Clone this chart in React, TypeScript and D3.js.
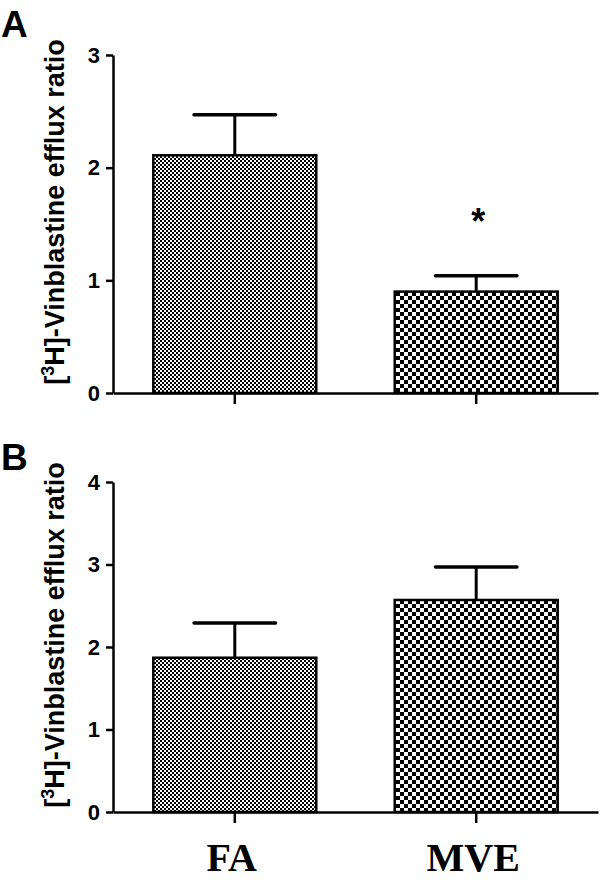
import React, { useEffect, useRef } from "react";
import * as d3 from "d3";

const groups = ["FA", "MVE"];
const panelAMeans = [2.11, 0.9];
const panelAErrors = [0.36, 0.14];
const panelATicks = [0, 1, 2, 3];
const panelBMeans = [1.87, 2.57];
const panelBErrors = [0.42, 0.4];
const panelBTicks = [0, 1, 2, 3, 4];
const panelASignificance = ["", "*"];

const W = 600;
const H = 882;

const App: React.FC = () => {
  const svgRef = useRef<SVGSVGElement>(null);

  useEffect(() => {
    if (!svgRef.current) return;
    const svg = d3.select(svgRef.current);
    svg.selectAll("*").remove();

    const defs = svg.append("defs");
    // fine checker for FA, coarse checker for MVE
    const addChecker = (id: string, cell: number) => {
      const p = defs
        .append("pattern")
        .attr("id", id)
        .attr("patternUnits", "userSpaceOnUse")
        .attr("width", cell * 2)
        .attr("height", cell * 2);
      p.append("rect").attr("width", cell * 2).attr("height", cell * 2).attr("fill", "#fff");
      p.append("rect").attr("width", cell).attr("height", cell).attr("fill", "#000");
      p.append("rect").attr("x", cell).attr("y", cell).attr("width", cell).attr("height", cell).attr("fill", "#000");
    };
    addChecker("chkFine", 2);
    addChecker("chkCoarse", 4);
    const fills = ["url(#chkFine)", "url(#chkCoarse)"];

    const x = d3
      .scaleBand<string>()
      .domain(groups)
      .range([113, 598])
      .paddingInner(0.325)
      .paddingOuter(0.167);

    const drawPanel = (
      letter: string,
      means: number[],
      errors: number[],
      ticks: number[],
      top: number,
      bottom: number,
      letterY: number,
      marks: string[] | null,
      showLabels: boolean
    ) => {
      const g = svg.append("g");
      const y = d3
        .scaleLinear()
        .domain([0, ticks[ticks.length - 1]])
        .range([bottom, top]);

      // bars
      g.selectAll("rect.bar")
        .data(groups)
        .join("rect")
        .attr("class", "bar")
        .attr("x", (d) => x(d)!)
        .attr("y", (_, i) => y(means[i]))
        .attr("width", x.bandwidth())
        .attr("height", (_, i) => y(0) - y(means[i]))
        .attr("fill", (_, i) => fills[i])
        .attr("stroke", "#000")
        .attr("stroke-width", 2.5);

      // upper error bars
      const capHalf = x.bandwidth() / 4;
      groups.forEach((d, i) => {
        const cx = x(d)! + x.bandwidth() / 2;
        g.append("line")
          .attr("x1", cx)
          .attr("x2", cx)
          .attr("y1", y(means[i]))
          .attr("y2", y(means[i] + errors[i]))
          .attr("stroke", "#000")
          .attr("stroke-width", 3);
        g.append("line")
          .attr("x1", cx - capHalf)
          .attr("x2", cx + capHalf)
          .attr("y1", y(means[i] + errors[i]))
          .attr("y2", y(means[i] + errors[i]))
          .attr("stroke", "#000")
          .attr("stroke-width", 3.5)
          .attr("stroke-linecap", "round");
        if (marks && marks[i]) {
          g.append("text")
            .attr("x", cx + 2)
            .attr("y", y(means[i] + errors[i]) - 42)
            .attr("text-anchor", "middle")
            .attr("font-family", "Liberation Sans, Arial, sans-serif")
            .attr("font-weight", "bold")
            .attr("font-size", 36)
            .text(marks[i]);
        }
      });

      // y axis
      const yAxis = g
        .append("g")
        .attr("transform", "translate(113,0)")
        .call(
          d3
            .axisLeft(y)
            .tickValues(ticks)
            .tickFormat(d3.format("d"))
            .tickSizeInner(7)
            .tickSizeOuter(0)
            .tickPadding(6)
        );
      yAxis.selectAll("path, line").attr("stroke", "#000").attr("stroke-width", 2.5);
      yAxis
        .selectAll("text")
        .attr("font-family", "Liberation Sans, Arial, sans-serif")
        .attr("font-weight", "bold")
        .attr("font-size", 22)
        .attr("fill", "#000");

      // x axis
      const xAxis = g
        .append("g")
        .attr("transform", `translate(0,${bottom})`)
        .call(d3.axisBottom(x).tickSizeInner(11).tickSizeOuter(0).tickFormat(() => ""));
      xAxis.selectAll("path, line").attr("stroke", "#000").attr("stroke-width", 2.5);

      if (showLabels) {
        g.selectAll("text.xlab")
          .data(groups)
          .join("text")
          .attr("class", "xlab")
          .attr("x", (d) => x(d)! + x.bandwidth() / 2 - 3)
          .attr("y", bottom + 59)
          .attr("text-anchor", "middle")
          .attr("font-family", "Liberation Serif, Times New Roman, serif")
          .attr("font-weight", "bold")
          .attr("font-size", 40)
          .text((d) => d);
      }

      // y title
      const title = g
        .append("text")
        .attr("transform", `translate(64,${(top + bottom) / 2 - 12}) rotate(-90)`)
        .attr("text-anchor", "middle")
        .attr("font-family", "Liberation Sans, Arial, sans-serif")
        .attr("font-weight", "bold")
        .attr("font-size", 27);
      title.append("tspan").text("[");
      title.append("tspan").attr("font-size", 18).attr("dy", -10).text("3");
      title.append("tspan").attr("dy", 10).text("H]-Vinblastine efflux ratio");

      // panel letter
      g.append("text")
        .attr("x", 1)
        .attr("y", letterY)
        .attr("font-family", "Liberation Sans, Arial, sans-serif")
        .attr("font-weight", "bold")
        .attr("font-size", 37)
        .text(letter);
    };

    drawPanel("A", panelAMeans, panelAErrors, panelATicks, 55, 393, 37, panelASignificance, false);
    drawPanel("B", panelBMeans, panelBErrors, panelBTicks, 482, 812, 470, null, true);
  }, []);

  return (
    <svg
      ref={svgRef}
      width={W}
      height={H}
      style={{ position: "absolute", left: 0, top: 0, background: "#fff" }}
    />
  );
};

export default App;
